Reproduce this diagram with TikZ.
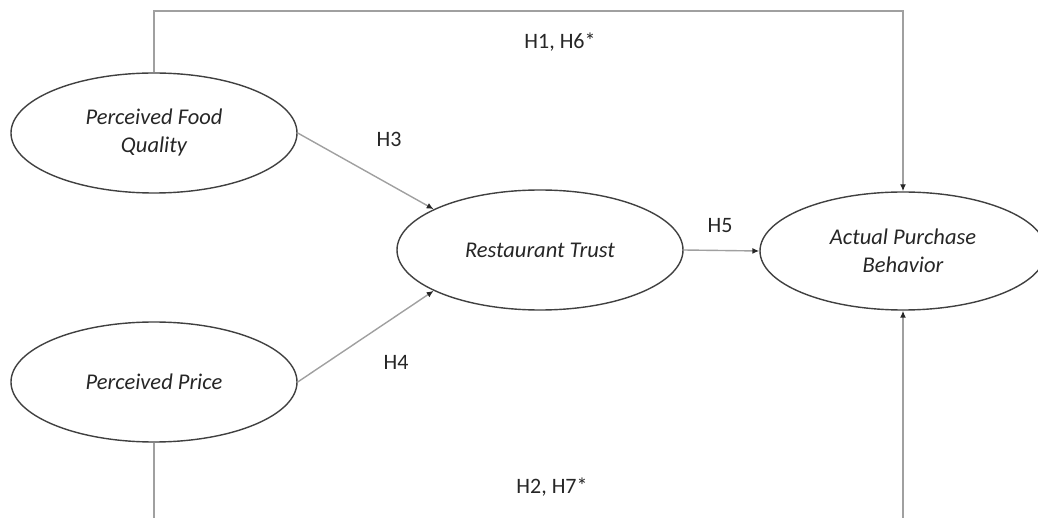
\documentclass[tikz,border=0pt]{standalone}
\usepackage{fontspec}
\setmainfont{Carlito}
\usetikzlibrary{shapes.geometric,arrows.meta}
\definecolor{linegray}{HTML}{A0A0A0}
\definecolor{edgegray}{HTML}{404040}
\definecolor{textgray}{HTML}{262626}
\begin{document}
\begin{tikzpicture}[x=1pt,y=-1pt,
  latent/.style={ellipse,draw=edgegray,line width=1.4pt,minimum width=286pt,minimum height=120pt,inner sep=0pt,align=center,font=\fontsize{22.5}{28}\selectfont\itshape,text=textgray},
  conn/.style={draw=linegray,line width=1.4pt},
  arr/.style={conn,-{Latex[length=7pt,width=6pt,color=black!85]}},
  lab/.style={font=\fontsize{22}{26}\selectfont,text=textgray,inner sep=0pt}]
\useasboundingbox (0,0) rectangle (1038,518);
\node[latent] (fq) at (154,133) {Perceived Food\\Quality};
\node[latent] (pp) at (154,382) {Perceived Price};
\node[latent] (rt) at (540,250) {Restaurant Trust};
\node[latent,minimum height=118pt] (apb) at (903,251) {Actual Purchase\\Behavior};
\coordinate (topy) at (0,11);
\coordinate (boty) at (0,519);
\draw[arr] (fq.north) -- (fq.north |- topy) -| (apb.north);
\draw[arr] (pp.south) -- (pp.south |- boty) -| (apb.south);
\draw[arr] (fq.east) -- (rt.159);
\draw[arr] (pp.east) -- (rt.201);
\draw[arr] (rt.east) -- (apb.west);
\node[lab] (l16) at (560,42) {H1, H6*};
\node[lab] (l3) at (389,139) {H3};
\node[lab] (l5) at (720,226) {H5};
\node[lab] (l4) at (396,362) {H4};
\node[lab] (l27) at (552,487) {H2, H7*};
\end{tikzpicture}
\end{document}
